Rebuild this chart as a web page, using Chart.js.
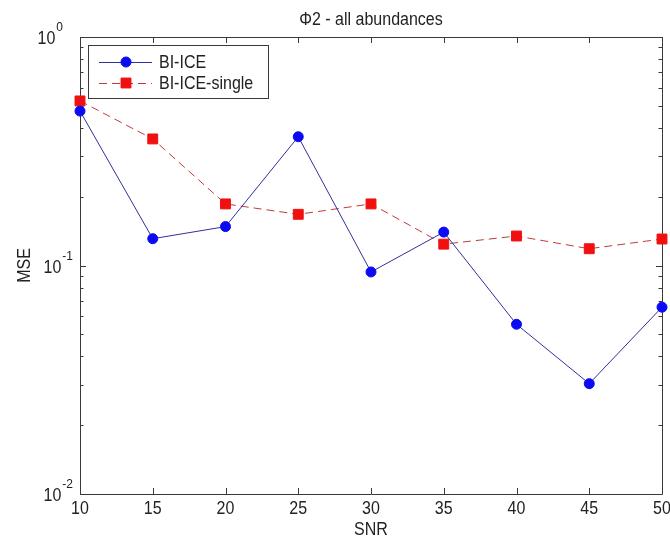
<!DOCTYPE html>
<html>
<head>
<meta charset="utf-8">
<script src="https://cdn.jsdelivr.net/npm/chart.js@4/dist/chart.umd.min.js"></script>
<style>
  html, body { margin: 0; padding: 0; background: #ffffff; }
  #wrap { width: 670px; height: 539px; }
</style>
</head>
<body>
<div id="wrap"><canvas id="c" width="670" height="539"></canvas></div>
<script>
// ---- data ----
const snr = [10, 15, 20, 25, 30, 35, 40, 45, 50];
const mseBiIce = [0.474, 0.131, 0.148, 0.366, 0.0937, 0.140, 0.0553, 0.0304, 0.0657];
const mseBiIceSingle = [0.525, 0.358, 0.186, 0.1675, 0.186, 0.124, 0.1346, 0.1184, 0.1306];
const seriesLabels = ['BI-ICE', 'BI-ICE-single'];
const xTicks = [10, 15, 20, 25, 30, 35, 40, 45, 50];
const yTickExponents = [-2, -1, 0];
const titleText = '\u03A62 - all abundances';
const xTitle = 'SNR';
const yTitle = 'MSE';

const FONT = '"Liberation Sans", Arial, sans-serif';
const TEXT = '#222222';
const AXIS = '#3a3a3a';
const SY = 1.13; // vertical stretch of the reference's text

function txt(ctx, s, x, y, size, align, baseline) {
  ctx.save();
  ctx.font = size + 'px ' + FONT;
  ctx.textAlign = align;
  ctx.textBaseline = baseline;
  ctx.translate(x, y);
  ctx.scale(1, SY);
  ctx.fillText(s, 0, 0);
  ctx.restore();
}

const axesPlugin = {
  id: 'matlabAxes',
  beforeDatasetsDraw(chart) {
    const { ctx, chartArea: a, scales } = chart;
    const xs = scales.x, ys = scales.y;
    ctx.save();
    ctx.strokeStyle = AXIS;
    ctx.lineWidth = 1;
    ctx.beginPath();
    ctx.rect(Math.round(a.left) + 0.5, Math.round(a.top) + 0.5, Math.round(a.right - a.left), Math.round(a.bottom - a.top));
    ctx.stroke();
    // x ticks (inward, top and bottom)
    ctx.beginPath();
    xTicks.forEach(v => {
      const px = Math.round(xs.getPixelForValue(v)) + 0.5;
      ctx.moveTo(px, a.bottom); ctx.lineTo(px, a.bottom - 6);
      ctx.moveTo(px, a.top); ctx.lineTo(px, a.top + 6);
    });
    // y major + minor ticks
    yTickExponents.forEach((e, i) => {
      const py = Math.round(ys.getPixelForValue(Math.pow(10, e))) + 0.5;
      ctx.moveTo(a.left, py); ctx.lineTo(a.left + 6, py);
      ctx.moveTo(a.right, py); ctx.lineTo(a.right - 6, py);
      if (i < yTickExponents.length - 1) {
        for (let m = 2; m <= 9; m++) {
          const pm = Math.round(ys.getPixelForValue(m * Math.pow(10, e))) + 0.5;
          ctx.moveTo(a.left, pm); ctx.lineTo(a.left + 3.5, pm);
          ctx.moveTo(a.right, pm); ctx.lineTo(a.right - 3.5, pm);
        }
      }
    });
    ctx.stroke();

    // labels
    ctx.fillStyle = TEXT;
    xTicks.forEach(v => {
      txt(ctx, String(v), xs.getPixelForValue(v), a.bottom + 15, 16, 'center', 'middle');
    });
    yTickExponents.forEach(e => {
      const py = ys.getPixelForValue(Math.pow(10, e));
      const exp = String(e);
      ctx.font = '12px ' + FONT;
      const ew = ctx.measureText(exp).width;
      const right = a.left - 8 - (e >= 0 ? 10 : 0);
      txt(ctx, '10', right - ew, py + 7, 16, 'right', 'alphabetic');
      txt(ctx, exp, right - ew + 1, py - 6, 12, 'left', 'alphabetic');
    });
    // axis titles
    txt(ctx, xTitle, (a.left + a.right) / 2, a.bottom + 36, 16, 'center', 'middle');
    ctx.save();
    ctx.translate(25, (a.top + a.bottom) / 2);
    ctx.rotate(-Math.PI / 2);
    ctx.font = '16px ' + FONT;
    ctx.textAlign = 'center';
    ctx.textBaseline = 'middle';
    ctx.scale(1.0, SY);
    ctx.fillText(yTitle, 0, 0);
    ctx.restore();
    txt(ctx, titleText, (a.left + a.right) / 2, 20, 16, 'center', 'middle');
    ctx.restore();
  },
  afterDraw(chart) {
    const { ctx, chartArea: a } = chart;
    ctx.save();
    const bx = a.left + 8, by = a.top + 8, bw = 180, bh = 53;
    ctx.fillStyle = '#ffffff';
    ctx.fillRect(bx, by, bw, bh);
    ctx.strokeStyle = AXIS;
    ctx.lineWidth = 1;
    ctx.strokeRect(Math.round(bx) + 0.5, Math.round(by) + 0.5, bw, bh);
    chart.data.datasets.forEach((ds, i) => {
      const cy = by + 17 + i * 21;
      ctx.strokeStyle = ds.borderColor;
      ctx.lineWidth = 1;
      ctx.setLineDash(ds.borderDash || []);
      ctx.beginPath();
      ctx.moveTo(bx + 11, cy + 0.5); ctx.lineTo(bx + 64, cy + 0.5);
      ctx.stroke();
      ctx.setLineDash([]);
      ctx.fillStyle = ds.pointBackgroundColor;
      ctx.strokeStyle = ds.pointBorderColor;
      Chart.helpers.drawPoint(ctx, {
        pointStyle: ds.pointStyle, radius: ds.pointRadius, rotation: 0, borderWidth: 1
      }, bx + 38, cy);
      ctx.fillStyle = TEXT;
      txt(ctx, ds.label, bx + 71, cy + 1, 16, 'left', 'middle');
    });
    ctx.restore();
  }
};

new Chart(document.getElementById('c'), {
  type: 'line',
  data: {
    datasets: [
      {
        label: seriesLabels[0],
        data: snr.map((x, i) => ({ x: x, y: mseBiIce[i] })),
        borderColor: '#30309a',
        borderWidth: 1,
        pointStyle: 'circle',
        pointRadius: 5,
        pointBackgroundColor: '#0a0af5',
        pointBorderColor: '#0a0af5',
        pointBorderWidth: 1,
        tension: 0,
        clip: false
      },
      {
        label: seriesLabels[1],
        data: snr.map((x, i) => ({ x: x, y: mseBiIceSingle[i] })),
        borderColor: '#c03a3a',
        borderWidth: 1,
        borderDash: [8, 5],
        pointStyle: 'rect',
        pointRadius: 7,
        pointBackgroundColor: '#f01010',
        pointBorderColor: '#f01010',
        pointBorderWidth: 1,
        tension: 0,
        clip: false
      }
    ]
  },
  options: {
    responsive: false,
    animation: false,
    devicePixelRatio: 1,
    layout: { padding: { left: 80, top: 37, right: 7, bottom: 45 } },
    scales: {
      x: { type: 'linear', min: 10, max: 50, display: false },
      y: { type: 'logarithmic', min: 0.01, max: 1, display: false }
    },
    plugins: {
      legend: { display: false },
      tooltip: { enabled: false },
      title: { display: false }
    }
  },
  plugins: [axesPlugin]
});
</script>
</body>
</html>
